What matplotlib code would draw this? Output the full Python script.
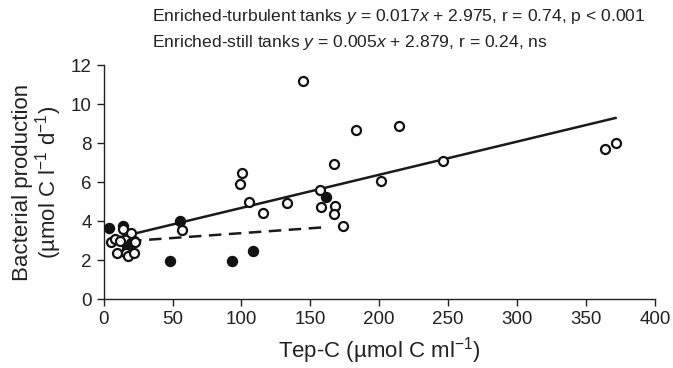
import numpy as np
import matplotlib
matplotlib.use('Agg')
import matplotlib.pyplot as plt

plt.rcParams['font.family'] = ['Liberation Sans', 'DejaVu Sans']
plt.rcParams['mathtext.fontset'] = 'custom'
plt.rcParams['mathtext.rm'] = 'Liberation Sans'
plt.rcParams['mathtext.it'] = 'Liberation Sans:italic'

# Enriched-turbulent tanks (open circles)
turb_x = [5, 8, 10, 12, 14, 16, 18, 20, 22, 23, 56.7, 100.7, 99, 105.3, 116, 145,
          133, 157, 157.5, 167.9, 167, 173.7, 167, 183.5, 201, 214.5, 246.5, 364, 371.5]
turb_y = [2.9, 3.1, 2.35, 3.0, 3.6, 2.35, 2.2, 3.4, 2.35, 2.9, 3.55, 6.49, 5.88, 5.0, 4.4, 11.2,
          4.94, 5.57, 4.73, 4.77, 4.36, 3.74, 6.92, 8.67, 6.07, 8.9, 7.1, 7.7, 8.0]

# Enriched-still tanks (filled circles)
still_x = [4, 14, 17, 20, 22, 55.3, 48, 93, 108.4, 161.5]
still_y = [3.65, 3.75, 2.6, 2.85, 3.0, 4.0, 1.95, 1.95, 2.45, 5.25]

turb_fit = [0.017, 2.975]
still_fit = [0.005, 2.879]

fig = plt.figure(figsize=(6.73, 3.68), dpi=100)
ax = fig.add_axes([0.154, 0.1875, 0.819, 0.6355])

xt = np.array([min(turb_x), max(turb_x)])
xs = np.array([min(still_x), max(still_x)])
ax.plot(xt, np.polyval(turb_fit, xt), color='#1a1a1a', lw=1.8, zorder=2)
ax.plot(xs, np.polyval(still_fit, xs), color='#1a1a1a', lw=1.8, ls=(0, (5, 3)), zorder=2)

ax.plot(still_x, still_y, 'o', ms=7, mfc='#111111', mec='#111111', mew=1.2, zorder=3)
ax.plot(turb_x, turb_y, 'o', ms=6.5, mfc='white', mec='#111111', mew=1.6, zorder=4)

ax.set_xlim(0, 400)
ax.set_ylim(0, 12)
ax.set_xticks(np.arange(0, 401, 50))
ax.set_yticks(np.arange(0, 13, 2))
ax.spines['top'].set_visible(False)
ax.spines['right'].set_visible(False)
for s in ['left', 'bottom']:
    ax.spines[s].set_linewidth(1.0)
    ax.spines[s].set_color('#222222')
ax.tick_params(direction='out', length=5, width=1.0, labelsize=13.5, colors='#222222')

ax.set_xlabel('Tep-C (µmol C ml$^{-1}$)', fontsize=16, color='#222222', labelpad=5)
ax.set_ylabel('Bacterial production\n(µmol C l$^{-1}$ d$^{-1}$)', fontsize=16,
              color='#222222', labelpad=5, linespacing=1.0)

fig.text(0.226, 0.955, 'Enriched-turbulent tanks $y$ = 0.017$x$ + 2.975, r = 0.74, p < 0.001',
         fontsize=12.6, color='#222222', va='center')
fig.text(0.226, 0.885, 'Enriched-still tanks $y$ = 0.005$x$ + 2.879, r = 0.24, ns',
         fontsize=12.6, color='#222222', va='center')

fig.savefig('out.png', dpi=100)
